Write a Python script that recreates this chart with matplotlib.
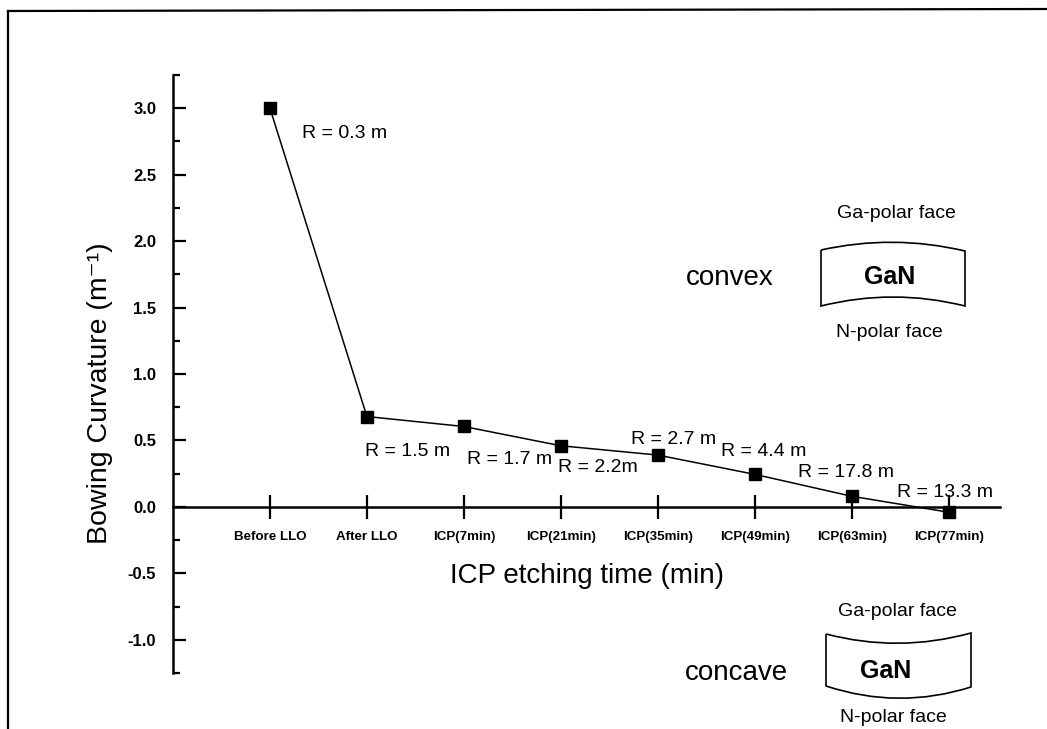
import matplotlib
matplotlib.use("Agg")
import matplotlib.pyplot as plt
from matplotlib.path import Path
from matplotlib.patches import PathPatch
from matplotlib.lines import Line2D
import numpy as np

# ---- data ----
categories = ["Before LLO", "After LLO", "ICP(7min)", "ICP(21min)", "ICP(35min)",
              "ICP(49min)", "ICP(63min)", "ICP(77min)"]
curvature = [3.00, 0.68, 0.605, 0.46, 0.39, 0.245, 0.08, -0.04]
radius_labels = ["R = 0.3 m", "R = 1.5 m", "R = 1.7 m", "R = 2.2m", "R = 2.7 m",
                 "R = 4.4 m", "R = 17.8 m", "R = 13.3 m"]
ytick_values = [-1.0, -0.5, 0.0, 0.5, 1.0, 1.5, 2.0, 2.5, 3.0]

# label offsets in pixels (layout only)
label_offsets = [(32, -25), (-2, -35), (3, -33), (-3, -22), (-27, 16),
                 (-34, 23), (-54, 24), (-52, 20)]

plt.rcParams['font.family'] = ['Liberation Sans', 'DejaVu Sans']

W, H = 1047, 729
fig = plt.figure(figsize=(W / 100, H / 100), dpi=100)
fig.patch.set_facecolor("white")

ax = fig.add_axes([173 / W, 1 - 673 / H, (1000 - 173) / W, (673 - 75) / H])
x = np.arange(len(categories))
ax.plot(x, curvature, color="black", lw=1.1, marker="s", ms=8.5,
        mfc="black", mec="black", zorder=3)

ax.set_xlim(-1, 7.53)
ax.set_ylim(-1.25, 3.25)

for s in ["top", "right"]:
    ax.spines[s].set_visible(False)
ax.spines["left"].set_linewidth(1.8)
ax.spines["bottom"].set_linewidth(1.8)
ax.spines["bottom"].set_position(("data", 0))

ax.set_yticks(ytick_values)
ax.set_yticklabels([f"{v:.1f}" for v in ytick_values], fontsize=12, fontweight="bold")
ax.set_yticks(np.arange(-1.25, 3.26, 0.25), minor=True)
ax.tick_params(axis="y", which="major", direction="in", length=9, width=1.6, pad=12)
ax.tick_params(axis="y", which="minor", direction="in", length=5, width=1.6)

ax.set_xticks(x)
ax.set_xticklabels(categories, fontsize=9.6, fontweight="bold")
ax.tick_params(axis="x", which="major", direction="inout", length=17, width=1.6, pad=9)

ax.set_ylabel("Bowing Curvature (m\u207b\u00b9)", fontsize=20.5)
ax.yaxis.set_label_coords((113 - 173) / 827, (673 - 393) / 598)
ax.set_xlabel("ICP etching time (min)", fontsize=20)
ax.xaxis.set_label_coords(0.5, (673 - 563) / 598)

for xi, yi, lab, (dx, dy) in zip(x, curvature, radius_labels, label_offsets):
    ax.annotate(lab, (xi, yi), xytext=(dx, dy), textcoords="offset pixels",
                fontsize=14, ha="left", va="center")

# ---- overlay in pixel coordinates for illustrations and frame ----
ov = fig.add_axes([0, 0, 1, 1], facecolor="none")
ov.set_xlim(0, W)
ov.set_ylim(H, 0)
ov.axis("off")

ov.add_line(Line2D([8, W], [11, 9], color="black", lw=1.6))
ov.add_line(Line2D([8, 8], [11, H], color="black", lw=1.6))


def gan_box(x0, x1, yt0, yt1, yb0, yb1, ctop, cbot):
    verts = [(x0, yt0), (0.5 * (x0 + x1), ctop), (x1, yt1),
             (x1, yb1), (0.5 * (x0 + x1), cbot), (x0, yb0), (x0, yt0)]
    codes = [Path.MOVETO, Path.CURVE3, Path.CURVE3,
             Path.LINETO, Path.CURVE3, Path.CURVE3, Path.LINETO]
    ov.add_patch(PathPatch(Path(verts, codes), facecolor="none",
                           edgecolor="black", lw=1.2))


gan_box(821, 965, 250, 251, 306, 306, 234, 288)
gan_box(826, 971, 634, 633, 686, 687, 653, 710)

ov.text(896, 213, "Ga-polar face", fontsize=14, ha="center", va="center")
ov.text(890, 277, "GaN", fontsize=18, fontweight="bold", ha="center", va="center")
ov.text(889, 332, "N-polar face", fontsize=14, ha="center", va="center")
ov.text(897, 612, "Ga-polar face", fontsize=14, ha="center", va="center")
ov.text(886, 671, "GaN", fontsize=18, fontweight="bold", ha="center", va="center")
ov.text(893, 718, "N-polar face", fontsize=14, ha="center", va="center")

ov.text(730, 285, "convex", fontsize=20, ha="center", va="baseline")
ov.text(788, 680, "concave", fontsize=20, ha="right", va="baseline")

fig.savefig("out.png", dpi=100)
